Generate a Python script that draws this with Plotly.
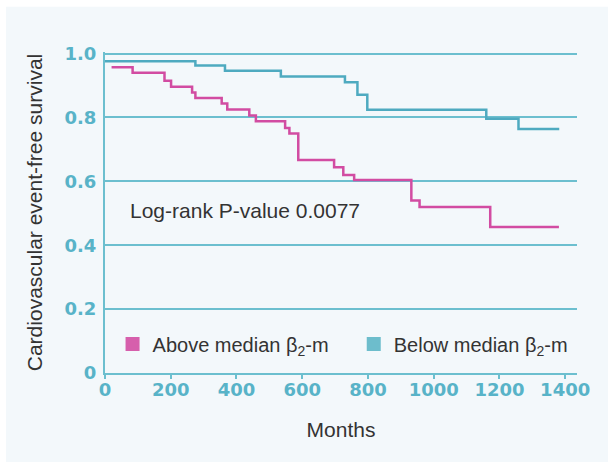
import plotly.graph_objects as go

# Kaplan-Meier step curves (months, survival proportion)
above_months = [20, 84, 181, 201, 265, 275, 355, 372, 439, 459, 548, 561, 588, 697, 725, 758, 932, 957, 1172, 1381]
above_surv = [0.957, 0.940, 0.915, 0.896, 0.878, 0.861, 0.844, 0.825, 0.806, 0.788, 0.767, 0.750, 0.667, 0.644, 0.620, 0.604, 0.540, 0.520, 0.457, 0.457]

below_months = [0, 275, 365, 535, 730, 768, 798, 1160, 1258, 1382]
below_surv = [0.976, 0.963, 0.946, 0.928, 0.910, 0.871, 0.824, 0.796, 0.764, 0.764]

x_ticks = [0, 200, 400, 600, 800, 1000, 1200, 1400]
y_ticks = [0, 0.2, 0.4, 0.6, 0.8, 1.0]
y_tick_text = ["0", "0.2", "0.4", "0.6", "0.8", "1.0"]

PINK = "#d24ca2"
TEAL_CURVE = "#4eaac0"
TEAL = "#6cbfcf"
TEAL_TEXT = "#58b3c8"
PANEL = "#f3f8fb"
TEXT = "#333333"
FONT = "Liberation Sans, Arial, sans-serif"
TICK_FONT = "DejaVu Sans, sans-serif"

fig = go.Figure()

fig.add_trace(go.Scatter(
    x=above_months, y=above_surv, mode="lines",
    line=dict(color=PINK, width=2.5, shape="hv"), showlegend=False,
))
fig.add_trace(go.Scatter(
    x=below_months, y=below_surv, mode="lines",
    line=dict(color=TEAL_CURVE, width=2.5, shape="hv"), showlegend=False,
))

# legend entries drawn as square swatches, each in its own legend box
fig.add_trace(go.Scatter(
    x=[None], y=[None], mode="markers", name="Above median β<sub>2</sub>-m",
    marker=dict(symbol="square", size=14, color="#d65fac"), legend="legend",
))
fig.add_trace(go.Scatter(
    x=[None], y=[None], mode="markers", name="Below median β<sub>2</sub>-m",
    marker=dict(symbol="square", size=14, color="#6dbdcc"), legend="legend2",
))

# light panel behind the whole chart
fig.add_shape(
    type="rect", xref="paper", yref="paper", layer="below",
    x0=-0.2097, x1=1.07, y0=-0.29, y1=1.141,
    fillcolor=PANEL, line=dict(width=0),
)

fig.add_annotation(
    xref="paper", yref="paper", x=0.048, y=0.507,
    xanchor="left", yanchor="middle", showarrow=False,
    text="Log-rank P-value 0.0077",
    font=dict(family=FONT, size=21, color=TEXT),
)

legend_style = dict(
    orientation="h", y=0.09, xanchor="left", yanchor="middle",
    bgcolor="rgba(0,0,0,0)", font=dict(family=FONT, size=20, color=TEXT),
)

fig.update_layout(
    width=608, height=462,
    margin=dict(l=105, r=31, t=52, b=89),
    paper_bgcolor="white",
    plot_bgcolor="rgba(0,0,0,0)",
    font=dict(family=FONT, size=21, color=TEXT),
    legend=dict(x=0.016, **legend_style),
    legend2=dict(x=0.527, **legend_style),
    xaxis=dict(
        range=[0, 1436], tickvals=x_ticks,
        showgrid=False, zeroline=False,
        showline=True, linecolor=TEAL, linewidth=2,
        ticks="outside", ticklen=4, tickwidth=2, tickcolor=TEAL,
        ticklabelstandoff=-5,
        tickfont=dict(family=TICK_FONT, size=18, color=TEAL_TEXT, weight="bold"),
        title=dict(text="Months", standoff=24, font=dict(family=FONT, size=21, color=TEXT)),
    ),
    yaxis=dict(
        range=[0, 1.005], tickvals=y_ticks, ticktext=y_tick_text,
        showgrid=True, gridcolor=TEAL, gridwidth=2, zeroline=False,
        showline=True, linecolor=TEAL, linewidth=2,
        ticks="", ticklabelstandoff=3,
        tickfont=dict(family=TICK_FONT, size=18, color=TEAL_TEXT, weight="bold"),
        title=dict(text="Cardiovascular event-free survival", standoff=16,
                   font=dict(family=FONT, size=21, color=TEXT)),
    ),
)

fig.write_html("out.html")
